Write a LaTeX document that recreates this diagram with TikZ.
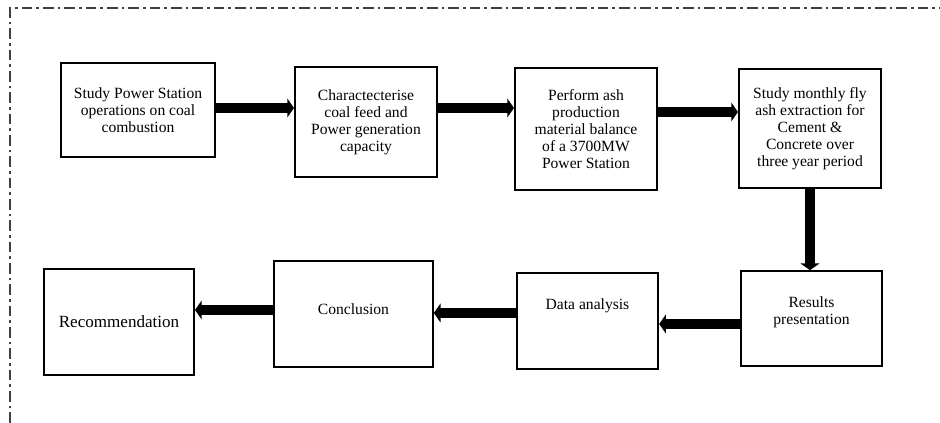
\documentclass[tikz,border=0pt]{standalone}
\usepackage{fontspec}
\setmainfont{Liberation Serif}
\usetikzlibrary{arrows.meta,positioning,calc}

\begin{document}
\begin{tikzpicture}[x=0.75pt,y=-0.75pt,
  box/.style={draw, line width=1.5pt, align=center, inner sep=2pt,
    font=\fontsize{11.7}{12.8}\selectfont},
  flow/.style={line width=6.8pt, -{Triangle[length=5pt,width=14pt]}},
  frame/.style={draw=black!75, line width=0.9pt,
    dash pattern=on 8pt off 3pt on 2pt off 3pt}]
  \useasboundingbox (0,0) rectangle (940,423);
  % Frame (top and left sides only)
  \draw[frame] (10,423) -- (10,8) -- (940,8);
  % Top row
  \node[box, minimum width=115.5pt, minimum height=70.5pt] (study) at (138,110)
    {Study Power Station\\operations on coal\\combustion};
  \node[box, minimum width=106.5pt, minimum height=82.5pt] (charac) at (366,122)
    {Charactecterise\\coal feed and\\Power generation\\capacity};
  \node[box, minimum width=106.5pt, minimum height=91.5pt] (balance) at (586,129)
    {Perform ash\\production\\material balance\\of a 3700MW\\Power Station};
  \node[box, minimum width=106.5pt, minimum height=89pt] (monthly) at (810,128.5)
    {Study monthly fly\\ash extraction for\\Cement \&\\Concrete over\\three year period};
  % Bottom row
  \node[box, minimum width=106pt, minimum height=71pt, text depth=12pt] (results) at (811.5,318.5)
    {Results\\presentation};
  \node[box, minimum width=106pt, minimum height=72pt, text depth=25pt] (data) at (587.5,321)
    {Data analysis};
  \node[box, minimum width=119pt, minimum height=79.5pt, text depth=8pt] (concl) at (353.5,314)
    {Conclusion};
  \node[box, minimum width=112.5pt, minimum height=79.5pt,
    font=\fontsize{12.8}{14}\selectfont] (recom) at (119,322)
    {Recommendation};
  % Connectors
  \draw[flow] (study.east |- 0,108) -- (charac.west |- 0,108);
  \draw[flow] (charac.east |- 0,108) -- (balance.west |- 0,108);
  \draw[flow] (balance.east |- 0,112) -- (monthly.west |- 0,112);
  \draw[flow] (monthly.south) -- (monthly.south |- results.north);
  \draw[flow] (results.west |- 0,324) -- (data.east |- 0,324);
  \draw[flow] (data.west |- 0,313) -- (concl.east |- 0,313);
  \draw[flow] (concl.west |- 0,310) -- (recom.east |- 0,310);
\end{tikzpicture}
\end{document}
